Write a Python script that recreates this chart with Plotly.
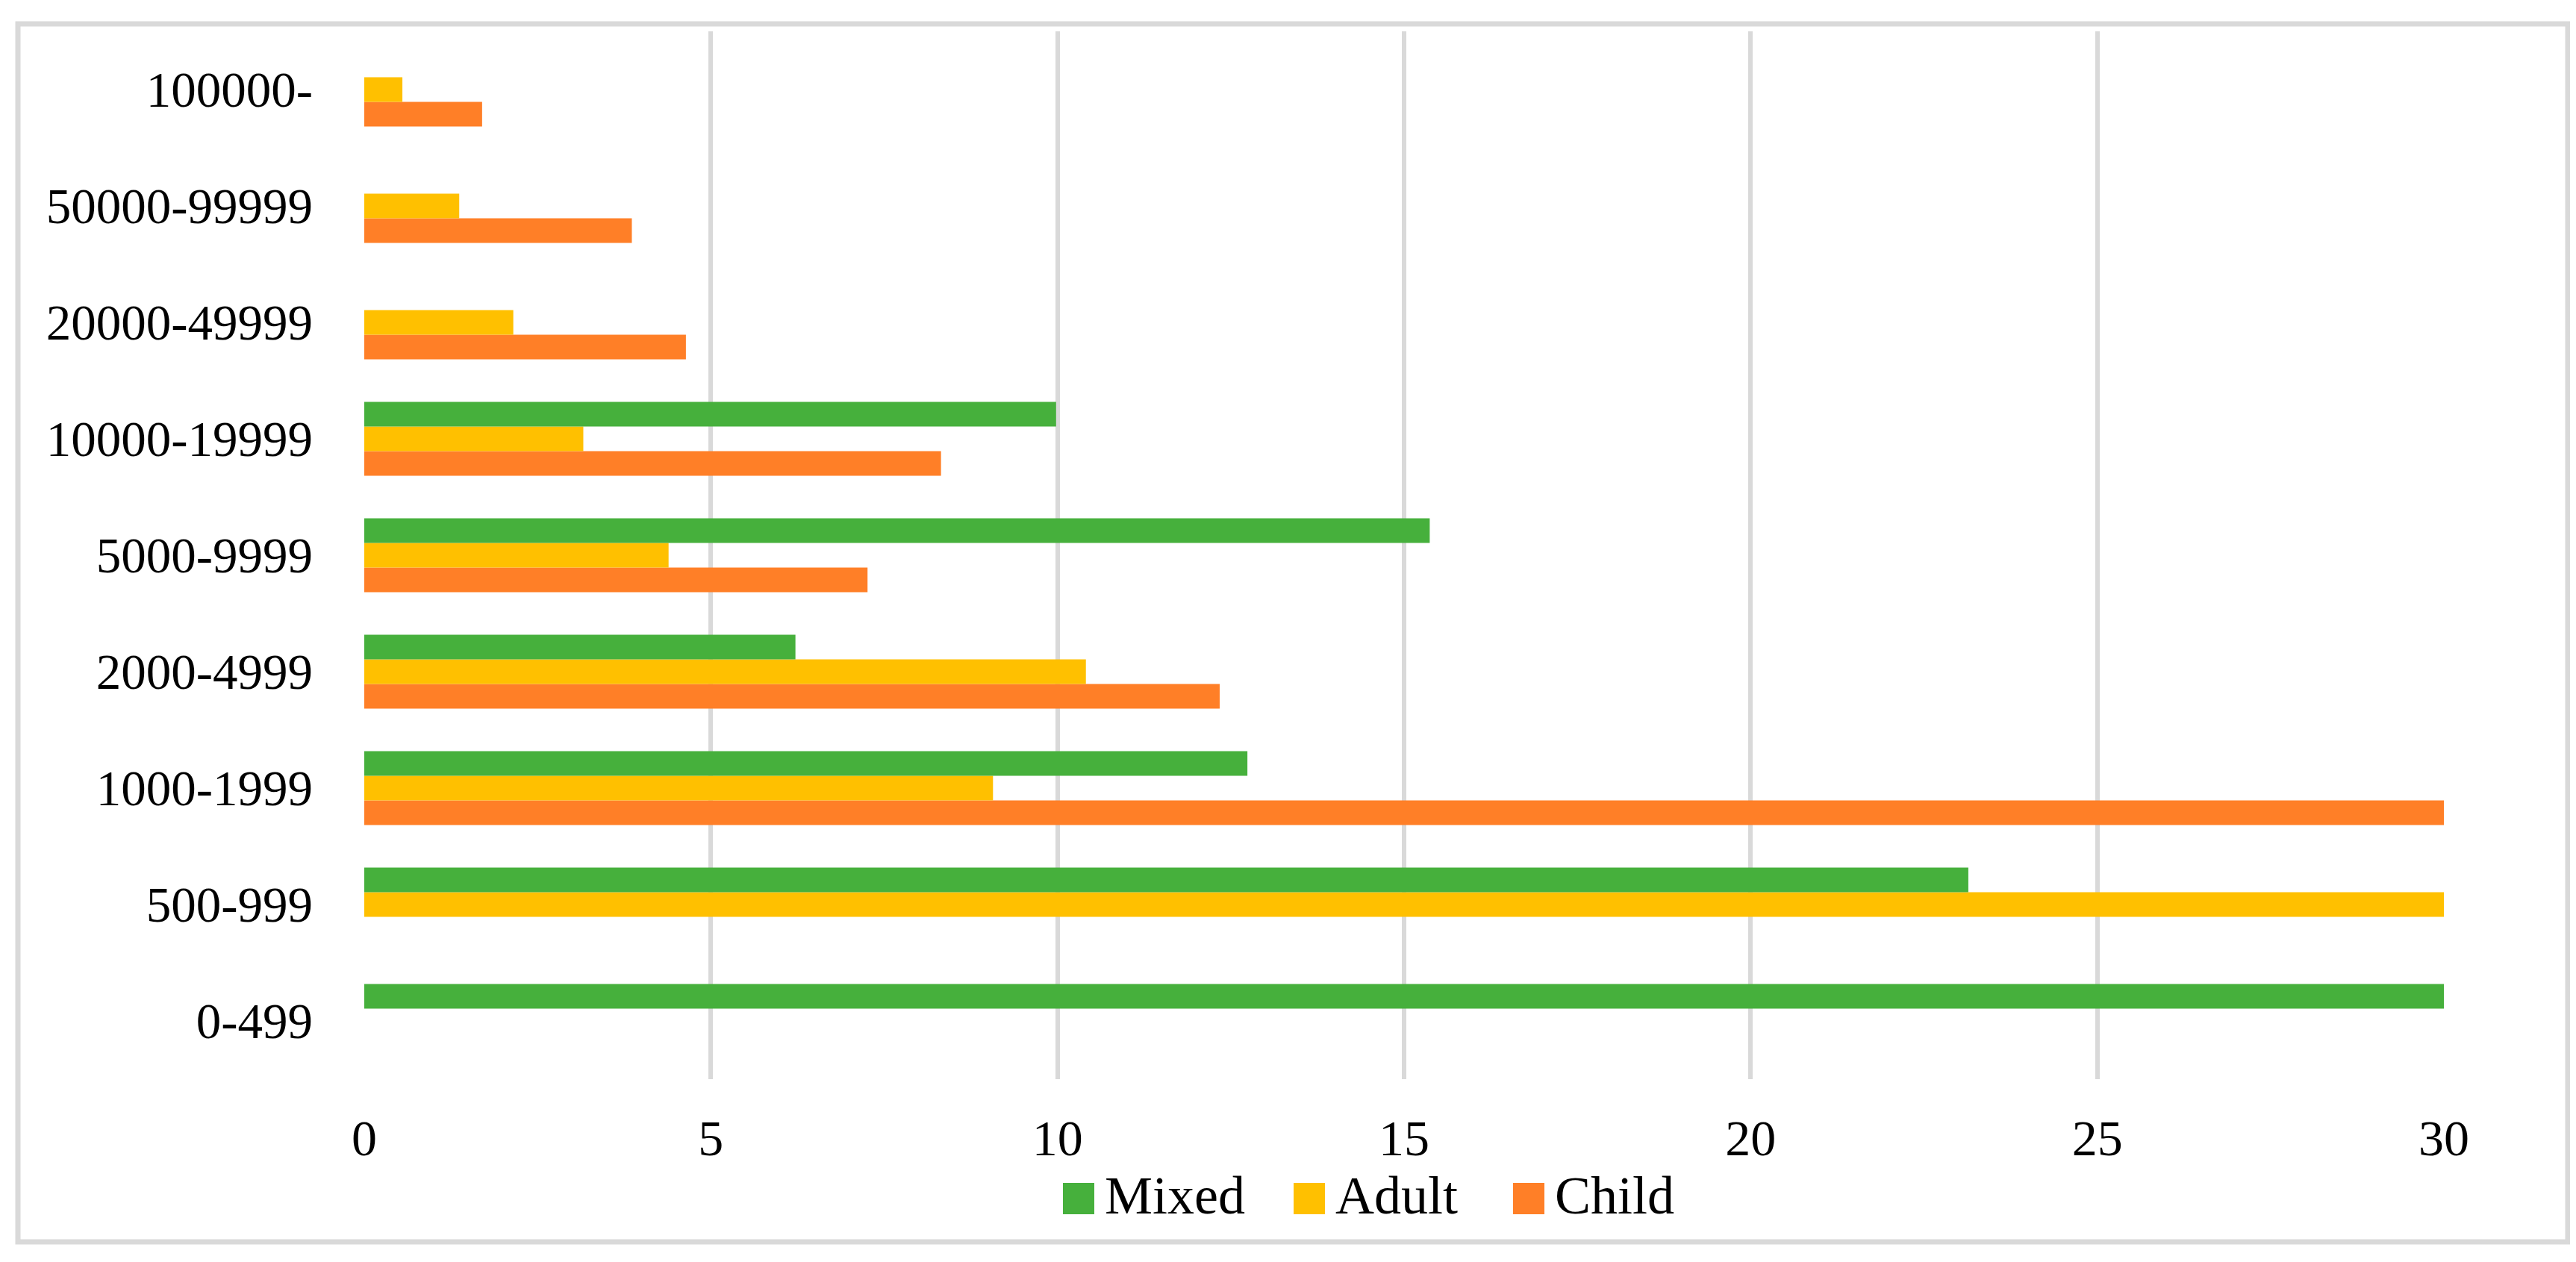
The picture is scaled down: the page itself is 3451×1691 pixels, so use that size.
import plotly.graph_objects as go

categories = ["0-499", "500-999", "1000-1999", "2000-4999", "5000-9999",
              "10000-19999", "20000-49999", "50000-99999", "100000-"]
mixed = [30, 23.14, 12.74, 6.22, 15.37, 9.98, None, None, None]
adult = [None, 30, 9.07, 10.41, 4.39, 3.16, 2.15, 1.37, 0.55]
child = [None, None, 30, 12.34, 7.26, 8.32, 4.64, 3.86, 1.70]
x_ticks = [0, 5, 10, 15, 20, 25, 30]

series_names = ["Mixed", "Adult", "Child"]
colors = {"Mixed": "#46B03C", "Adult": "#FFC000", "Child": "#FF7F27"}

# page body has an 8px default margin; compensate so the figure lines up
OFF = 8
W, H = 3451 - OFF, 1691 - OFF
ML, MR, MT, MB = 488 - OFF, 177, 42 - OFF, 245
PW, PH = W - ML - MR, H - MT - MB
FONT = "Palatino Linotype, Book Antiqua, Palatino, Liberation Serif, serif"


def px_x(p):
    return (p - OFF - ML) / PW


def px_y(p):
    return (H - MB - (p - OFF)) / PH


fig = go.Figure()
for name, vals in [("Child", child), ("Adult", adult), ("Mixed", mixed)]:
    fig.add_trace(go.Bar(
        y=categories, x=vals, name=name, orientation="h",
        marker=dict(color=colors[name], line=dict(width=0)),
        showlegend=False,
    ))

shapes = [dict(type="rect", xref="paper", yref="paper",
               x0=px_x(24), x1=px_x(3440), y0=px_y(1664), y1=px_y(32),
               line=dict(color="#D9D9D9", width=7), fillcolor="rgba(0,0,0,0)",
               layer="below")]
annotations = []
legend_sq = {"Mixed": 1424, "Adult": 1733, "Child": 2027}
for name in series_names:
    x0 = legend_sq[name]
    shapes.append(dict(type="rect", xref="paper", yref="paper",
                       x0=px_x(x0), x1=px_x(x0 + 42), y0=px_y(1627), y1=px_y(1585),
                       line=dict(width=0), fillcolor=colors[name]))
    annotations.append(dict(xref="paper", yref="paper", x=px_x(x0 + 54), y=px_y(1602),
                            xanchor="left", yanchor="middle", showarrow=False,
                            text=name, font=dict(family=FONT, size=72, color="#000000")))

fig.update_layout(
    width=W, height=H,
    margin=dict(l=ML, r=MR, t=MT, b=MB),
    paper_bgcolor="white", plot_bgcolor="white",
    barmode="group", bargap=0.365, bargroupgap=0,
    showlegend=False,
    shapes=shapes, annotations=annotations,
    font=dict(family=FONT, color="#000000"),
)
fig.update_xaxes(range=[0, 30], tickvals=x_ticks, showgrid=True,
                 gridcolor="#D9D9D9", gridwidth=6, zeroline=False, showline=False,
                 ticks="", ticklabelstandoff=33,
                 tickfont=dict(family=FONT, size=68, color="#000000"))
fig.update_yaxes(type="category", categoryorder="array", categoryarray=categories,
                 showgrid=False, zeroline=False, showline=False, ticks="",
                 ticklabelstandoff=68,
                 tickfont=dict(family=FONT, size=67, color="#000000"))

fig.write_html("out.html")
